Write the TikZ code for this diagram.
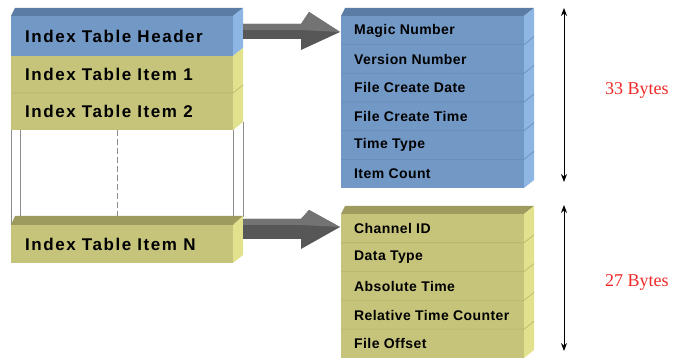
\documentclass[tikz,border=0pt]{standalone}
\usepackage{fontspec}
\setmainfont{Liberation Serif}
\newfontfamily\labfont[LetterSpace=9]{Liberation Sans Bold}
\newfontfamily\fldfont[LetterSpace=3]{Liberation Sans Bold}
\usetikzlibrary{arrows.meta}
\definecolor{blueF}{HTML}{7298C6}
\definecolor{blueT}{HTML}{5B7DA5}
\definecolor{blueS}{HTML}{8DB6E4}
\definecolor{blueD}{HTML}{668BB8}
\definecolor{yelF}{HTML}{C6C47B}
\definecolor{yelT}{HTML}{9D9B5D}
\definecolor{yelS}{HTML}{E2E18D}
\definecolor{yelD}{HTML}{B6B46D}
\definecolor{arrD}{HTML}{575757}
\definecolor{arrL}{HTML}{737373}
\definecolor{frameG}{HTML}{8C8C8C}
\definecolor{byteRed}{HTML}{F02828}
\tikzset{
  rowbox/.style={draw=none, inner sep=0pt, anchor=north west},
  leftlab/.style={anchor=west, inner sep=0pt, font=\labfont\fontsize{17}{20}\selectfont},
  fieldlab/.style={anchor=west, inner sep=0pt, font=\fldfont\fontsize{14}{16}\selectfont},
  bytelab/.style={anchor=west, inner sep=0pt, text=byteRed, font=\fontsize{18}{20}\selectfont},
  sizearrow/.style={{Stealth[length=8pt,width=6pt]}-{Stealth[length=8pt,width=6pt]}, line width=0.8pt, black},
  framel/.style={draw=frameG, line width=0.6pt},
}
\begin{document}
\begin{tikzpicture}[x=1pt,y=-1pt]
\useasboundingbox[fill=white] (0,0) rectangle (673,358);

% ---------- left stack ----------
\fill[blueT] (11,16) -- (15,8) -- (243,8) -- (233,16) -- cycle;
\node[rowbox, fill=blueF, minimum width=222, minimum height=40] (hdr) at (11,16) {};
\fill[blueS] (233,16) -- (243,8) -- (243,48) -- (233,56) -- cycle;
\node[rowbox, fill=yelF, minimum width=222, minimum height=37] (it1) at (11,56) {};
\fill[yelS] (233,56) -- (243,48) -- (243,85) -- (233,93) -- cycle;
\node[rowbox, fill=yelF, minimum width=222, minimum height=37] (it2) at (11,93) {};
\fill[yelS] (233,93) -- (243,85) -- (243,122) -- (233,130) -- cycle;
\draw[yelD, line width=0.6pt] (11,93) -- (233,93) -- (243,85);

% frame of the omitted items
\draw[framel] (11,130) -- (11,225);
\draw[framel] (20,130) -- (20,217);
\draw[framel] (233,130) -- (233,225);
\draw[framel] (243,122) -- (243,217);
\draw[framel, dashed, dash pattern=on 6pt off 3pt] (117,130) -- (117,217);

% item N
\fill[yelT] (11,225) -- (15,216) -- (243,216) -- (233,225) -- cycle;
\node[rowbox, fill=yelF, minimum width=222, minimum height=38] (itN) at (11,225) {};
\fill[yelS] (233,225) -- (243,216) -- (243,255) -- (233,263) -- cycle;

\node[leftlab] (tHdr) at ([xshift=14pt]hdr.west) {Index Table Header};
\node[leftlab] (tIt1) at ([xshift=14pt]it1.west) {Index Table Item 1};
\node[leftlab] (tIt2) at ([xshift=14pt]it2.west) {Index Table Item 2};
\node[leftlab] (tItN) at ([xshift=14pt]itN.west) {Index Table Item N};

% ---------- header fields (blue) ----------
\fill[blueT] (341,16) -- (345,8) -- (534,8) -- (524,16) -- cycle;
\fill[blueS] (524,16) -- (534,8) -- (534,180) -- (524,188) -- cycle;
\foreach \i/\t [count=\k from 0] in {m1/Magic Number, m2/Version Number, m3/File Create Date, m4/File Create Time, m5/Time Type, m6/Item Count}{
  \node[rowbox, fill=blueF, minimum width=183, minimum height=28.67] (\i) at (341,{16+28.67*\k}) {};
  \node[fieldlab] at ([xshift=13pt]\i.west) {\t};
}
\foreach \k in {1,...,5}{
  \draw[blueD, line width=0.6pt] (341,{16+28.67*\k}) -- (524,{16+28.67*\k}) -- (534,{8+28.67*\k});
}

% ---------- item fields (yellow) ----------
\fill[yelT] (341,214) -- (345,206) -- (534,206) -- (524,214) -- cycle;
\fill[yelS] (524,214) -- (534,206) -- (534,350) -- (524,358) -- cycle;
\foreach \i/\t [count=\k from 0] in {c1/Channel ID, c2/Data Type, c3/Absolute Time, c4/Relative Time Counter, c5/File Offset}{
  \node[rowbox, fill=yelF, minimum width=183, minimum height=28.8] (\i) at (341,{214+28.8*\k}) {};
  \node[fieldlab] at ([xshift=13pt]\i.west) {\t};
}
\foreach \k in {1,...,4}{
  \draw[yelD, line width=0.6pt] (341,{214+28.8*\k}) -- (524,{214+28.8*\k}) -- (534,{206+28.8*\k});
}

% ---------- block arrows ----------
\fill[arrD] (243,24) -- (301,24) -- (309,12) -- (340,32) -- (301,50) -- (301,39) -- (243,39) -- cycle;
\fill[arrL] (243,24) -- (301,24) -- (309,12) -- (340,32) -- (301,30) -- (243,30) -- cycle;
\fill[arrD] (243,219) -- (301,219) -- (309,210) -- (340,227) -- (301,249) -- (301,239) -- (243,239) -- cycle;
\fill[arrL] (243,219) -- (301,219) -- (309,210) -- (340,227) -- (301,225) -- (243,225) -- cycle;

% ---------- size arrows ----------
\coordinate (a1) at (564,8);
\coordinate (a2) at (564,182);
\coordinate (b1) at (564,205);
\coordinate (b2) at (564,351);
\draw[sizearrow] (a1) -- (a2);
\draw[sizearrow] (b1) -- (b2);
\node[bytelab] (by33) at (605,90) {33 Bytes};
\node[bytelab] (by27) at (605,282) {27 Bytes};
\end{tikzpicture}
\end{document}
